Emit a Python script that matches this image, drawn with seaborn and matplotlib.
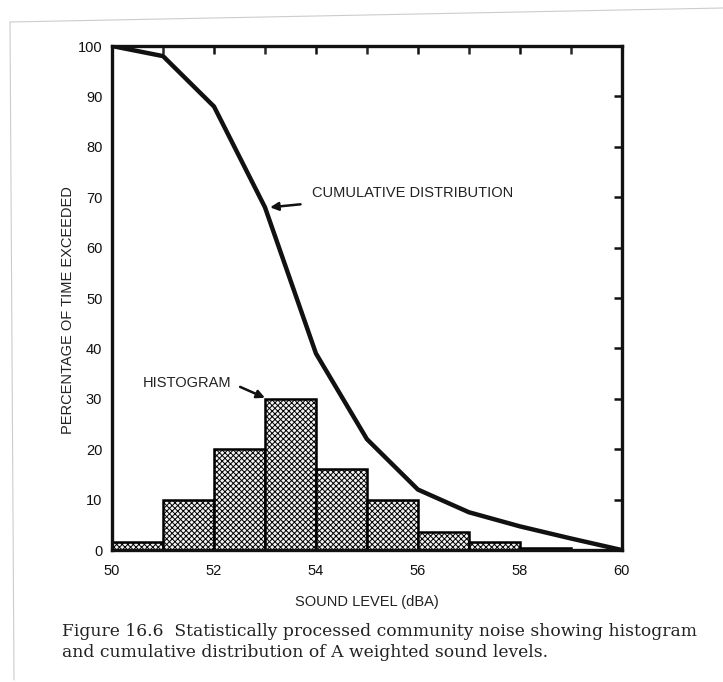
import matplotlib
matplotlib.use("Agg")
import matplotlib.pyplot as plt
import seaborn as sns
import numpy as np
import pandas as pd

# ---- data ----
bin_starts = [50, 51, 52, 53, 54, 55, 56, 57, 58, 59]
hist_pct = [1.5, 10, 20, 30, 16, 10, 3.5, 1.5, 0.5, 0.0]
cum_levels = [50, 51, 52, 53, 54, 55, 56, 57, 58, 59, 60]
cum_pct = [100, 98, 88, 68, 39, 22, 12, 7.5, 4.7, 2.3, 0]
x_ticks = [50, 52, 54, 56, 58, 60]
y_ticks = [0, 10, 20, 30, 40, 50, 60, 70, 80, 90, 100]

sns.set_theme(style="white")
plt.rcParams['font.family'] = ['Liberation Sans', 'DejaVu Sans']
plt.rcParams['hatch.color'] = '#8a8a8a'
plt.rcParams['hatch.linewidth'] = 0.7

fig = plt.figure(figsize=(7.23, 6.82), dpi=100)
ax = fig.add_axes([0.155, 0.1935, 0.705, 0.739])

hist_df = pd.DataFrame({"level": [b + 0.5 for b in bin_starts], "pct": hist_pct})
sns.histplot(data=hist_df, x="level", weights="pct", bins=list(range(50, 61)),
             ax=ax, color="#eeeeee", alpha=1, edgecolor="black", linewidth=1.8)
for p in ax.patches:
    p.set_hatch('xxxxxx')
    p.set_facecolor('#f2f2f2')

cum_df = pd.DataFrame({"level": cum_levels, "pct": cum_pct})
sns.lineplot(data=cum_df, x="level", y="pct", ax=ax, color="#111111", linewidth=3.2)

ax.set_xlim(50, 60)
ax.set_ylim(0, 100)
ax.set_xticks(x_ticks)
ax.set_xticks(range(50, 61), minor=True)
ax.set_yticks(y_ticks)
ax.tick_params(axis='both', which='major', direction='in', length=6, width=1.8,
               labelsize=10.5, colors='#111111', top=True, right=True, pad=7)
ax.tick_params(axis='x', which='major', pad=10)
ax.tick_params(axis='x', which='minor', direction='in', length=6, width=1.8,
               top=True, bottom=False)
ax.tick_params(axis='x', which='major', bottom=False)
for s in ax.spines.values():
    s.set_linewidth(2.4)
    s.set_color('#111111')

ax.set_xlabel("SOUND LEVEL (dBA)", fontsize=10.5, labelpad=12, color='#222222')
ax.set_ylabel("PERCENTAGE OF TIME EXCEEDED", fontsize=10.5, color='#222222')
ax.yaxis.set_label_coords(-0.0725, 0.476)

ax.annotate("CUMULATIVE DISTRIBUTION", xy=(53.1, 68), xytext=(53.92, 70.8),
            fontsize=10.5, va='center', ha='left', color='#222222',
            arrowprops=dict(arrowstyle='-|>', color='#111111', lw=1.8,
                            shrinkA=6, shrinkB=0, mutation_scale=12))
ax.annotate("HISTOGRAM", xy=(53.0, 30.2), xytext=(50.61, 33.1),
            fontsize=10.5, va='center', ha='left', color='#222222',
            arrowprops=dict(arrowstyle='-|>', color='#111111', lw=1.8,
                            shrinkA=4, shrinkB=0, mutation_scale=12,
                            relpos=(1.0, 0.5)))

fig.text(62 / 723, 1 - 642 / 682,
         "Figure 16.6  Statistically processed community noise showing histogram\n"
         "and cumulative distribution of A weighted sound levels.",
         fontsize=12.3, family=['DejaVu Serif'], color='#222222', va='center',
         ha='left', linespacing=1.25)

# faint page edges of the scan
fig.add_artist(plt.Line2D([10 / 723, 723 / 723], [1 - 22 / 682, 1 - 8 / 682],
                          transform=fig.transFigure, color='#cccccc', lw=0.8))
fig.add_artist(plt.Line2D([10 / 723, 14 / 723], [1 - 22 / 682, 1 - 680 / 682],
                          transform=fig.transFigure, color='#cccccc', lw=0.8))

fig.savefig("out.png", dpi=100)
